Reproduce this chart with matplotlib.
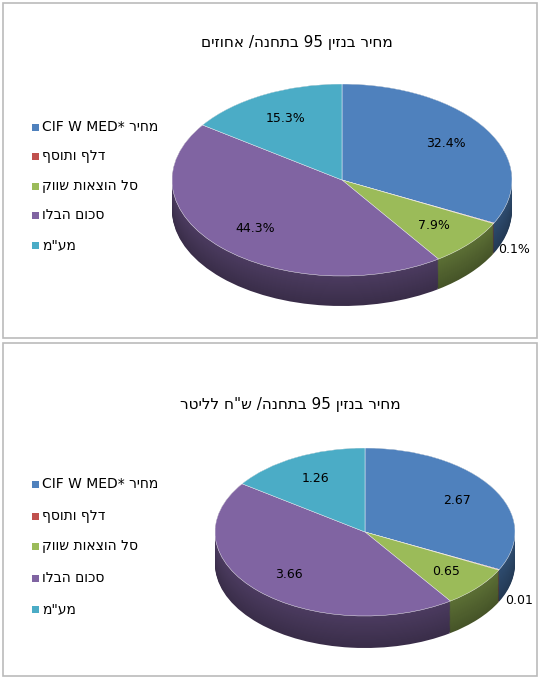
import matplotlib.pyplot as plt
import matplotlib.colors as mcolors
import numpy as np
from matplotlib.patches import Rectangle

W, H = 540, 679

# data (Hebrew strings stored in visual left-to-right order, matplotlib has no bidi)
series = ["מחיר CIF W MED*", "דלף ותוסף", "סל הוצאות שווק", "סכום הבלו", "מע\"מ"]
series_vis = ["CIF W MED* ריחמ", "ףסותו ףלד", "קווש תואצוה לס", "ולבה םוכס", "מ\"עמ"]
pct_values = [32.4, 0.1, 7.9, 44.3, 15.3]
nis_values = [2.67, 0.01, 0.65, 3.66, 1.26]
title1_vis = "םיזוחא /הנחתב 95 ןיזנב ריחמ"
title2_vis = "רטילל ח\"ש /הנחתב 95 ןיזנב ריחמ"
colors = ["#4F81BD", "#C0504D", "#9BBB59", "#8064A2", "#4BACC6"]

fig = plt.figure(figsize=(W / 100, H / 100), dpi=100)
fig.patch.set_facecolor("white")


def px(x, y):
    return x / W, 1 - y / H


def darker(c, f):
    r, g, b = mcolors.to_rgb(c)
    return (r * f, g * f, b * f)


def panel(top, bot, title, tx, ty, cx, cy, rx, ry, depth, vals, fmt, leg_y, small_pos):
    fig.add_artist(Rectangle(px(3, bot), 534 / W, (bot - top) / H, transform=fig.transFigure,
                             fill=False, edgecolor="#BBBBBB", lw=1.2))
    fig.text(*px(tx, ty), title, ha="center", va="center", fontsize=11)
    # legend
    for i, (lab, c) in enumerate(zip(series_vis, colors)):
        y = leg_y[i]
        fig.add_artist(Rectangle(px(32, y + 4), 7 / W, 7 / H, transform=fig.transFigure,
                                 facecolor=c, edgecolor="none"))
        fig.text(*px(42, y), lab, ha="left", va="center", fontsize=10)
    d = depth / ry
    ax = fig.add_axes([(cx - rx) / W, 1 - (cy + ry + depth) / H, 2 * rx / W, (2 * ry + depth) / H])
    # side layers
    for k, t in enumerate(np.linspace(d, 0, 30)):
        shade = 0.45 + 0.15 * k / 30
        ax.pie(vals, colors=[darker(c, shade) for c in colors], startangle=90, counterclock=False,
               center=(0, -t), radius=1, wedgeprops=dict(linewidth=0))
    wedges, texts, autos = ax.pie(vals, colors=colors, startangle=90, counterclock=False, radius=1,
                                  autopct=lambda p: "", pctdistance=0.72,
                                  wedgeprops=dict(linewidth=0.3, edgecolor="white"))
    for i, a in enumerate(autos):
        a.set_text(fmt(vals[i]))
        a.set_fontsize(9)
        if i == 1:
            a.set_position(small_pos)
    ax.set_aspect("auto")
    ax.set_xlim(-1, 1)
    ax.set_ylim(-1 - d, 1)
    ax.axis("off")


panel(3, 338, title1_vis, 297, 43, 342, 180, 170, 96, 30, pct_values,
      lambda v: f"{v:.1f}%", [127, 156, 186, 215, 245], (1.01, -0.72))
panel(343, 676, title2_vis, 290, 405, 365, 532, 150, 84, 32, nis_values,
      lambda v: f"{v:.2f}", [484, 516, 546, 578, 609], (1.03, -0.81))

fig.savefig("out.png", dpi=100, facecolor="white")
